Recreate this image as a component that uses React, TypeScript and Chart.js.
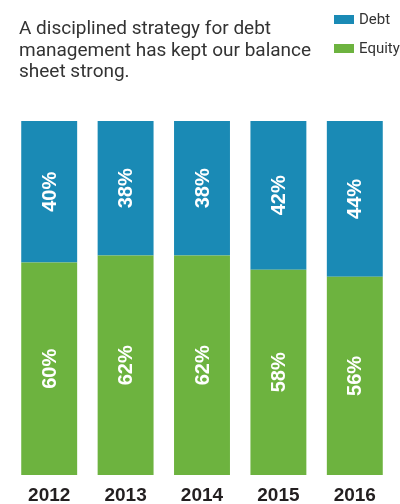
import React, { useEffect, useRef } from "react";
import { Chart, registerables } from "chart.js";

Chart.register(...registerables);

const years = ["2012", "2013", "2014", "2015", "2016"];
const equity = [60, 62, 62, 58, 56];
const debt = [40, 38, 38, 42, 44];
const titleLines = [
  "A disciplined strategy for debt",
  "management has kept our balance",
  "sheet strong.",
];
const BLUE = "#1a8ab5";
const GREEN = "#6db33f";

const labelPlugin = {
  id: "segLabels",
  afterDatasetsDraw(chart: any) {
    const ctx = chart.ctx;
    chart.data.datasets.forEach((ds: any, di: number) => {
      const meta = chart.getDatasetMeta(di);
      meta.data.forEach((el: any, i: number) => {
        const cy = (el.y + el.base) / 2;
        ctx.save();
        ctx.translate(el.x, cy);
        ctx.rotate(-Math.PI / 2);
        ctx.fillStyle = "#ffffff";
        ctx.font = "bold 20px 'Liberation Sans', Arial, sans-serif";
        ctx.textAlign = "center";
        ctx.textBaseline = "middle";
        ctx.fillText(ds.data[i] + "%", 0, 1);
        ctx.restore();
      });
    });
  },
};

export default function App() {
  const ref = useRef<HTMLCanvasElement>(null);
  useEffect(() => {
    const chart = new Chart(ref.current!, {
      type: "bar",
      data: {
        labels: years,
        datasets: [
          { label: "Equity", data: equity, backgroundColor: GREEN, barPercentage: 0.732, categoryPercentage: 1 },
          { label: "Debt", data: debt, backgroundColor: BLUE, barPercentage: 0.732, categoryPercentage: 1 },
        ],
      },
      options: {
        responsive: false,
        animation: false,
        layout: { padding: { top: 121, left: 11, right: 7, bottom: 0 } },
        plugins: { legend: { display: false }, tooltip: { enabled: false }, title: { display: false } },
        scales: {
          x: {
            stacked: true,
            grid: { display: false, drawTicks: false },
            border: { display: false },
            ticks: {
              color: "#231f20",
              font: { family: "'Liberation Sans', Arial, sans-serif", size: 19, weight: "bold" },
              padding: 9,
            },
            afterFit(scale: any) {
              scale.height = 29;
            },
          },
          y: { stacked: true, display: false, min: 0, max: 100 },
        },
      },
      plugins: [labelPlugin],
    });
    return () => chart.destroy();
  }, []);

  return (
    <div style={{ position: "absolute", left: 0, top: 0, width: 400, height: 504, background: "#fff" }}>
      <canvas ref={ref} width={400} height={504} style={{ position: "absolute", left: 0, top: 0 }} />
      <div
        style={{
          position: "absolute",
          left: 19,
          top: 17,
          fontFamily: "'Roboto', sans-serif",
          fontSize: 19,
          lineHeight: "21.5px",
          color: "#333333",
          whiteSpace: "nowrap",
        }}
      >
        {titleLines.map((l) => (
          <div key={l}>{l}</div>
        ))}
      </div>
      {[
        { label: "Debt", color: BLUE, top: 15 },
        { label: "Equity", color: GREEN, top: 44 },
      ].map((it) => (
        <div key={it.label} style={{ position: "absolute", left: 334, top: it.top, height: 10 }}>
          <div style={{ position: "absolute", left: 0, top: 0, width: 20, height: 9, background: it.color }} />
          <div
            style={{
              position: "absolute",
              left: 25,
              top: -4,
              fontFamily: "'Roboto', sans-serif",
              fontSize: 15,
              lineHeight: "17px",
              color: "#333333",
              whiteSpace: "nowrap",
            }}
          >
            {it.label}
          </div>
        </div>
      ))}
    </div>
  );
}
